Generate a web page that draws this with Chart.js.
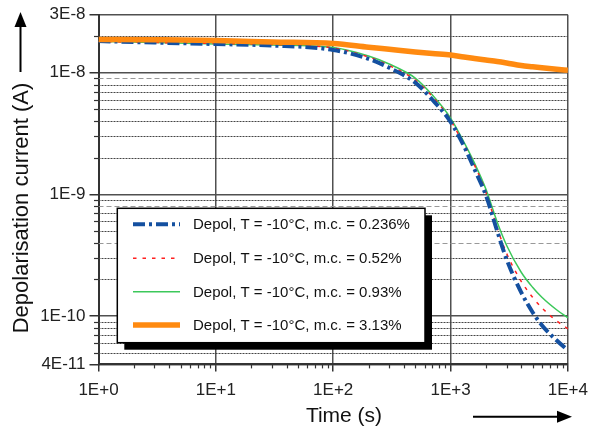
<!DOCTYPE html>
<html>
<head>
<meta charset="utf-8">
<script src="https://cdn.jsdelivr.net/npm/chart.js@4.4.1/dist/chart.umd.min.js"></script>
<style>
  html, body { margin: 0; padding: 0; background: #fff; }
  #wrap { width: 597px; height: 431px; }
</style>
</head>
<body>
<div id="wrap"><canvas id="chart" width="597" height="431"></canvas></div>
<script>
// Depolarisation current at -10°C for four moisture contents (log-log)
const times = [1, 3, 10, 30, 100, 200, 300, 500, 700, 1000, 1300, 1600, 2000, 2500, 3000, 4000, 5000, 6000, 8000, 10000];
const mc0236 = [1.82e-8, 1.77e-8, 1.72e-8, 1.675e-8, 1.54e-8, 1.30e-8, 1.10e-8, 8.3e-9, 6.0e-9, 3.95e-9, 2.5e-9, 1.61e-9, 9.85e-10, 4.98e-10, 2.93e-10, 1.567e-10, 1.073e-10, 8.39e-11, 6.31e-11, 5.22e-11];
const mc052 = [1.806e-8, 1.773e-8, 1.739e-8, 1.706e-8, 1.597e-8, 1.346e-8, 1.146e-8, 8.71e-9, 6.37e-9, 4.08e-9, 2.54e-9, 1.74e-9, 1.042e-9, 5.27e-10, 3.28e-10, 1.93e-10, 1.425e-10, 1.168e-10, 9.13e-11, 7.85e-11];
const mc093 = [1.806e-8, 1.773e-8, 1.723e-8, 1.69e-8, 1.612e-8, 1.372e-8, 1.179e-8, 9.04e-9, 6.55e-9, 4.24e-9, 2.69e-9, 1.806e-9, 1.104e-9, 5.9e-10, 3.82e-10, 2.29e-10, 1.722e-10, 1.425e-10, 1.125e-10, 9.66e-11];
const mc313 = [1.88e-8, 1.866e-8, 1.84e-8, 1.79e-8, 1.74e-8, 1.62e-8, 1.558e-8, 1.483e-8, 1.439e-8, 1.40e-8, 1.346e-8, 1.309e-8, 1.272e-8, 1.236e-8, 1.202e-8, 1.146e-8, 1.118e-8, 1.097e-8, 1.067e-8, 1.047e-8];
const seriesLabels = [
  'Depol, T = -10°C, m.c. = 0.236%',
  'Depol, T = -10°C, m.c. = 0.52%',
  'Depol, T = -10°C, m.c. = 0.93%',
  'Depol, T = -10°C, m.c. = 3.13%'
];
const xTicks = [1, 10, 100, 1000, 10000];
const yTicks = [3e-8, 1e-8, 1e-9, 1e-10, 4e-11];

const FONT = "'Liberation Sans', Arial, sans-serif";
Chart.defaults.font.family = FONT;

// minor positions: 2..9 in every decade, inside the axis range
function minorValues(min, max) {
  const out = [];
  for (let n = Math.floor(Math.log10(min)); n <= Math.ceil(Math.log10(max)); n++) {
    for (let k = 2; k <= 9; k++) {
      const v = k * Math.pow(10, n);
      if (v > min * 1.001 && v < max * 0.999) out.push(v);
    }
  }
  return out;
}
const xMinor = minorValues(1, 10000);
const yMinor = minorValues(4e-11, 3e-8);
const dashedMinor = [9e-9, 8e-10, 4e-10];

function expLabel(v) {
  const e = Math.floor(Math.log10(v) + 1e-9);
  const m = Math.round(v / Math.pow(10, e));
  return m + 'E' + (e >= 0 ? '+' : '') + e;
}

const pts = vals => vals.map((v, i) => ({ x: times[i], y: v }));

function hline(ctx, x1, x2, y) { ctx.beginPath(); ctx.moveTo(x1, y); ctx.lineTo(x2, y); ctx.stroke(); }
function vline(ctx, x, y1, y2) { ctx.beginPath(); ctx.moveTo(x, y1); ctx.lineTo(x, y2); ctx.stroke(); }

const decor = {
  id: 'decor',
  beforeDatasetsDraw(chart) {
    const { ctx, chartArea: a, scales: { x, y } } = chart;
    ctx.save();
    ctx.lineWidth = 1;
    yMinor.forEach(v => {
      const py = Math.round(y.getPixelForValue(v)) + 0.5;
      const dashed = dashedMinor.some(d => Math.abs(d / v - 1) < 1e-6);
      ctx.strokeStyle = dashed ? '#999' : '#444';
      ctx.setLineDash(dashed ? [5, 3] : [2, 1]);
      hline(ctx, a.left, a.right, py);
    });
    ctx.setLineDash([]);
    ctx.strokeStyle = '#333';
    ctx.lineWidth = 1.2;
    yMinor.forEach(v => {
      const py = Math.round(y.getPixelForValue(v)) + 0.5;
      hline(ctx, a.left - 4.5, a.left, py);
    });
    xMinor.forEach(v => {
      const px = Math.round(x.getPixelForValue(v)) + 0.5;
      vline(ctx, px, a.bottom, a.bottom + 4);
    });
    ctx.restore();
  },
  afterDraw(chart) {
    const { ctx } = chart;
    ctx.save();

    // legend box with drop shadow
    const bx = 117.3, by = 208.3, bw = 307.7, bh = 134.4;
    ctx.fillStyle = '#000';
    ctx.fillRect(bx + 7, by + 7, bw, bh);
    ctx.fillStyle = '#fff';
    ctx.fillRect(bx, by, bw, bh);
    ctx.strokeStyle = '#000';
    ctx.lineWidth = 1.5;
    ctx.strokeRect(bx, by, bw, bh);

    const rows = [224.3, 258.3, 291.7, 325];
    ctx.font = '15px ' + FONT;
    ctx.textBaseline = 'middle';
    ctx.textAlign = 'left';
    seriesLabels.forEach((label, i) => {
      const ds = chart.data.datasets[i];
      ctx.strokeStyle = ds.borderColor;
      ctx.lineWidth = ds.borderWidth;
      ctx.setLineDash(ds.borderDash || []);
      hline(ctx, 133, 180, rows[i]);
      ctx.setLineDash([]);
      ctx.fillStyle = '#111';
      ctx.fillText(label, 193, rows[i] + 1);
    });

    // axis titles
    ctx.fillStyle = '#111';
    ctx.font = '21px ' + FONT;
    ctx.textBaseline = 'alphabetic';
    ctx.textAlign = 'center';
    ctx.fillText('Time (s)', 344, 422);
    ctx.save();
    ctx.translate(28, 208);
    ctx.rotate(-Math.PI / 2);
    ctx.font = '22px ' + FONT;
    ctx.fillText('Depolarisation current (A)', 0, 0);
    ctx.restore();

    // arrows next to the axis titles
    ctx.strokeStyle = '#000';
    ctx.fillStyle = '#000';
    ctx.lineWidth = 2;
    vline(ctx, 20.5, 72, 26);
    ctx.beginPath();
    ctx.moveTo(20.5, 12); ctx.lineTo(14.5, 27); ctx.lineTo(26.5, 27); ctx.closePath();
    ctx.fill();
    hline(ctx, 473, 560, 416.7);
    ctx.beginPath();
    ctx.moveTo(572, 416.7); ctx.lineTo(557, 410.7); ctx.lineTo(557, 422.7); ctx.closePath();
    ctx.fill();

    ctx.restore();
  }
};

new Chart(document.getElementById('chart'), {
  type: 'line',
  data: {
    datasets: [
      { label: seriesLabels[0], data: pts(mc0236), borderColor: '#1450A0', borderWidth: 4, borderDash: [12, 4, 3, 4], order: 1 },
      { label: seriesLabels[1], data: pts(mc052), borderColor: '#FF2020', borderWidth: 1.5, borderDash: [3.5, 6], order: 2 },
      { label: seriesLabels[2], data: pts(mc093), borderColor: '#3CC85A', borderWidth: 1.5, order: 3 },
      { label: seriesLabels[3], data: pts(mc313), borderColor: '#FF8A10', borderWidth: 5.5, order: 0 }
    ]
  },
  options: {
    responsive: false,
    animation: false,
    layout: { padding: { top: 14.7, right: 20.5, left: 0, bottom: 0 } },
    elements: {
      point: { radius: 0 },
      line: { cubicInterpolationMode: 'monotone', fill: false }
    },
    plugins: { legend: { display: false }, tooltip: { enabled: false } },
    scales: {
      x: {
        type: 'logarithmic',
        min: 1,
        max: 10000,
        afterBuildTicks: s => { s.ticks = xTicks.map(v => ({ value: v })); },
        afterFit: s => { s.height = 66.6; },
        grid: { color: '#505050', lineWidth: 1.5, tickLength: 7, tickColor: '#333', tickWidth: 1.5 },
        border: { color: '#333', width: 2 },
        ticks: {
          autoSkip: false, maxRotation: 0, padding: 9,
          color: '#222', font: { size: 17 },
          callback: v => expLabel(v)
        }
      },
      y: {
        type: 'logarithmic',
        min: 4e-11,
        max: 3e-8,
        afterBuildTicks: s => { s.ticks = yTicks.map(v => ({ value: v })); },
        afterFit: s => { s.width = 98.5; },
        grid: { color: '#505050', lineWidth: 1.5, tickLength: 9, tickColor: '#333', tickWidth: 1.5 },
        border: { color: '#333', width: 2 },
        ticks: {
          autoSkip: false, padding: 4,
          color: '#222', font: { size: 17 },
          callback: v => expLabel(v)
        }
      }
    }
  },
  plugins: [decor]
});
</script>
</body>
</html>
